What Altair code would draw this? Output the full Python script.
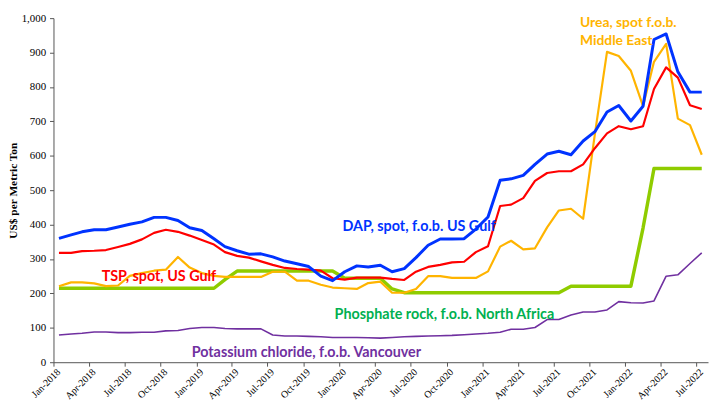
import altair as alt
import pandas as pd

# Monthly dates Jan-2018 .. Jul-2022 (mid-month)
months = [f"{y}-{m:02d}-15T00:00:00" for y in range(2018, 2023) for m in range(1, 13)]
months = months[:55]

dap = [360, 370, 379, 385, 385, 393, 401, 408, 421, 421, 412, 391,
       383, 359, 336, 324, 314, 315, 306, 294, 286, 278, 250, 237,
       263, 280, 277, 282, 263, 272, 304, 340, 358, 358, 359, 387,
       422, 529, 533, 543, 575, 605, 613, 603, 643, 670, 727, 746,
       701, 744, 938, 954, 844, 785, 785]

tsp = [318, 318, 323, 324, 326, 335, 344, 357, 376, 385, 379, 368,
       355, 342, 320, 309, 304, 293, 283, 274, 271, 269, 266, 244,
       240, 246, 246, 246, 242, 239, 263, 277, 283, 290, 292, 320,
       337, 454, 458, 477, 527, 550, 555, 555, 575, 622, 665, 686,
       677, 686, 794, 857, 827, 747, 736]

urea = [221, 232, 232, 229, 221, 223, 251, 259, 266, 269, 306, 275,
        259, 251, 248, 248, 248, 248, 263, 263, 237, 237, 225, 217,
        215, 213, 230, 234, 202, 202, 213, 250, 250, 245, 245, 245,
        264, 336, 353, 328, 331, 392, 441, 446, 417, 663, 902, 890,
        847, 744, 873, 925, 708, 689, 603]

rock = [215, 215, 215, 215, 215, 215, 215, 215, 215, 215, 215, 215,
        215, 215, 240, 265, 265, 265, 265, 265, 265, 265, 265, 265,
        244, 244, 244, 244, 213, 202, 202, 202, 202, 202, 202, 202,
        202, 202, 202, 202, 202, 202, 202, 221, 221, 221, 221, 221,
        221, 390, 563, 563, 563, 563, 563]

potash = [79, 82, 84, 88, 88, 86, 86, 87, 87, 91, 92, 98,
          101, 101, 98, 97, 97, 97, 79, 76, 76, 75, 74, 72,
          72, 72, 71, 70, 72, 74, 75, 76, 77, 78, 80, 82,
          84, 87, 96, 96, 101, 124, 124, 137, 146, 146, 152, 176,
          173, 172, 178, 250, 254, 287, 318]

series_names = ["Potassium chloride", "Phosphate rock", "Urea", "TSP", "DAP"]
series_values = [potash, rock, urea, tsp, dap]
colors = ["#7030A0", "#8FCC00", "#FFB400", "#FF0000", "#0033FF"]
widths = [1.6, 3.5, 2.2, 2.2, 3.0]

# Annotation labels (anchored in data coordinates)
label_text = ["Urea, spot f.o.b.", "Middle East", "DAP, spot, f.o.b. US Gulf",
              "TSP, spot, US Gulf", "Phosphate rock, f.o.b. North Africa",
              "Potassium chloride, f.o.b. Vancouver"]
label_date = ["2021-09-07", "2021-09-07", "2020-01-09",
              "2018-05-04", "2019-12-20", "2018-12-20"]
label_value = [986, 934, 394, 247, 138, 26]
label_color = ["#FFB400", "#FFB400", "#0033FF", "#FF0000", "#00B050", "#7030A0"]
label_size = [14, 14, 14.5, 14.5, 14.5, 14.5]

x_scale = alt.Scale(domain=[alt.DateTime(year=2018, month=1, date=1),
                            alt.DateTime(year=2022, month=7, date=31)])
y_scale = alt.Scale(domain=[0, 1000])

x_axis = alt.Axis(format="%b-%Y", tickCount={"interval": "month", "step": 3},
                  labelAngle=315, labelAlign="right", labelBaseline="middle",
                  labelOffset=5, labelPadding=4,
                  labelFont="Liberation Serif", labelFontSize=10, labelColor="#000",
                  domainColor="#555", tickColor="#555", tickSize=4,
                  grid=False, title=None, labelOverlap=False, labelFlush=False)
y_axis = alt.Axis(values=list(range(0, 1001, 100)), format=",d",
                  labelFont="Liberation Serif", labelFontSize=11, labelColor="#000",
                  domainColor="#555", tickColor="#555", tickSize=4, labelPadding=4,
                  grid=False, title="US$ per Metric Ton", titleFont="Liberation Serif",
                  titleFontSize=11.5, titleFontWeight="bold", titleColor="#000",
                  titlePadding=3)

X = alt.X("date:T", scale=x_scale, axis=x_axis)
Y = alt.Y("value:Q", scale=y_scale, axis=y_axis)

layers = []
for i, (name, vals) in enumerate(zip(series_names, series_values)):
    df = pd.DataFrame({"date": months, "value": vals, "series": name})
    layers.append(alt.Chart(df).mark_line(color=colors[i], strokeWidth=widths[i],
                                          strokeJoin="round").encode(x=X, y=Y))

lab_df = pd.DataFrame({"date": label_date, "value": label_value,
                       "text": label_text, "color": label_color,
                       "fsize": label_size})
labels = alt.Chart(lab_df).mark_text(align="left", baseline="middle", font="Lato",
                                     fontWeight="bold").encode(
    x=X, y=Y,
    text="text:N",
    color=alt.Color("color:N", scale=None),
    size=alt.Size("fsize:Q", scale=None),
)

chart = alt.layer(*layers, labels).properties(
    width=662, height=348,
    autosize=alt.AutoSizeParams(type="none"),
    padding={"left": 46, "top": 8, "right": 1, "bottom": 40},
    background="white",
).configure_view(stroke=None)

chart.save("out.html", embed_options={"renderer": "svg", "actions": False})
